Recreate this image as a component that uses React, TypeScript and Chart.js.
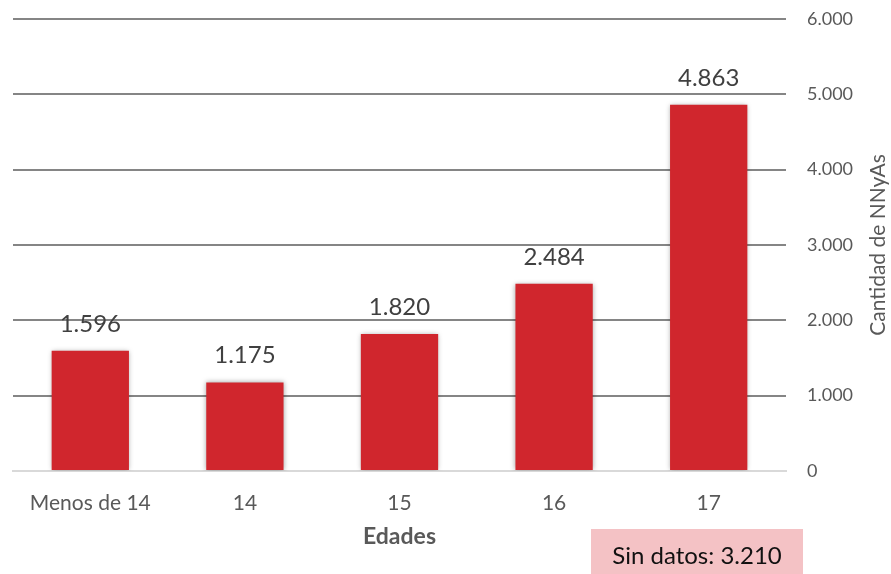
import React, { useEffect, useRef } from "react";
import { Chart, registerables } from "chart.js";

Chart.register(...registerables);

const categories = ["Menos de 14", "14", "15", "16", "17"];
const values = [1596, 1175, 1820, 2484, 4863];
const yTicks = [0, 1000, 2000, 3000, 4000, 5000, 6000];
const xTitle = "Edades";
const yTitle = "Cantidad de NNyAs";
const noteText = "Sin datos: 3.210";

const FONT = "Lato, 'Open Sans', sans-serif";

function fmt(v: number): string {
  return String(v).replace(/\B(?=(\d{3})+(?!\d))/g, ".");
}

const shadowPlugin = {
  id: "barShadow",
  beforeDatasetsDraw(chart: any) {
    const ctx = chart.ctx;
    ctx.save();
    ctx.shadowColor = "rgba(0,0,0,0.35)";
    ctx.shadowBlur = 5;
    ctx.shadowOffsetX = 0;
    ctx.shadowOffsetY = 0;
  },
  afterDatasetsDraw(chart: any) {
    const ctx = chart.ctx;
    ctx.restore();
    const meta = chart.getDatasetMeta(0);
    ctx.save();
    ctx.font = `24px ${FONT}`;
    ctx.fillStyle = "#404040";
    ctx.textAlign = "center";
    ctx.textBaseline = "alphabetic";
    meta.data.forEach((el: any, i: number) => {
      ctx.fillText(fmt(values[i]), el.x, el.y - 19);
    });
    ctx.restore();
  },
};

const extrasPlugin = {
  id: "extras",
  afterDraw(chart: any) {
    const ctx = chart.ctx;
    const area = chart.chartArea;
    ctx.save();
    ctx.font = `21px ${FONT}`;
    ctx.fillStyle = "#595959";
    ctx.textAlign = "center";
    ctx.textBaseline = "middle";
    ctx.translate(area.right + 92, (area.top + area.bottom) / 2);
    ctx.rotate(-Math.PI / 2);
    ctx.fillText(yTitle, 0, 0);
    ctx.restore();

    ctx.save();
    ctx.font = `bold 23px ${FONT}`;
    ctx.fillStyle = "#595959";
    ctx.textAlign = "center";
    ctx.textBaseline = "middle";
    ctx.fillText(xTitle, (area.left + area.right) / 2, area.bottom + 66);
    ctx.restore();

    ctx.save();
    const bx = area.right - 195;
    const by = area.bottom + 58;
    const bw = 212;
    const bh = 50;
    ctx.fillStyle = "#F4C2C5";
    ctx.fillRect(bx, by, bw, bh);
    ctx.font = `24px ${FONT}`;
    ctx.fillStyle = "#111111";
    ctx.textAlign = "center";
    ctx.textBaseline = "middle";
    ctx.fillText(noteText, bx + bw / 2, by + 27);
    ctx.restore();
  },
};

export default function App() {
  const ref = useRef<HTMLCanvasElement | null>(null);
  useEffect(() => {
    if (!ref.current) return;
    const chart = new Chart(ref.current, {
      type: "bar",
      data: {
        labels: categories,
        datasets: [
          {
            data: values,
            backgroundColor: "#D0262D",
            borderWidth: 0,
            barPercentage: 0.5,
            categoryPercentage: 1,
          },
        ],
      },
      options: {
        animation: false,
        responsive: true,
        maintainAspectRatio: false,
        layout: { padding: { left: 13, top: 19, right: 0, bottom: 0 } },
        plugins: {
          legend: { display: false },
          tooltip: { enabled: false },
        },
        scales: {
          x: {
            grid: { display: false, drawTicks: false },
            border: { display: true, color: "#D9D9D9", width: 2 },
            ticks: {
              color: "#595959",
              font: { family: FONT, size: 21 },
              padding: 20,
              maxRotation: 0,
            },
            afterFit(scale: any) {
              scale.height = 103;
              scale.paddingTop = 0;
              scale.paddingBottom = 0;
              scale.paddingLeft = 0;
              scale.paddingRight = 0;
            },
          },
          y: {
            position: "right",
            min: 0,
            max: 6000,
            afterBuildTicks(scale: any) {
              scale.ticks = yTicks.map((v) => ({ value: v }));
            },
            grid: {
              color: (c: any) => (c.tick && c.tick.value === 0 ? "rgba(0,0,0,0)" : "#858585"),
              lineWidth: 2,
              drawTicks: false,
            },
            border: { display: false },
            ticks: {
              color: "#595959",
              font: { family: FONT, size: 18 },
              padding: 21,
              callback: (v: any) => fmt(Number(v)),
            },
            afterFit(scale: any) {
              scale.width = 105;
              scale.paddingTop = 0;
              scale.paddingBottom = 0;
              scale.paddingLeft = 0;
              scale.paddingRight = 0;
            },
          },
        },
      },
      plugins: [shadowPlugin, extrasPlugin],
    });
    return () => chart.destroy();
  }, []);
  return (
    <div style={{ position: "fixed", left: 0, top: 0, width: 891, height: 574, background: "#fff" }}>
      <canvas ref={ref} />
    </div>
  );
}
